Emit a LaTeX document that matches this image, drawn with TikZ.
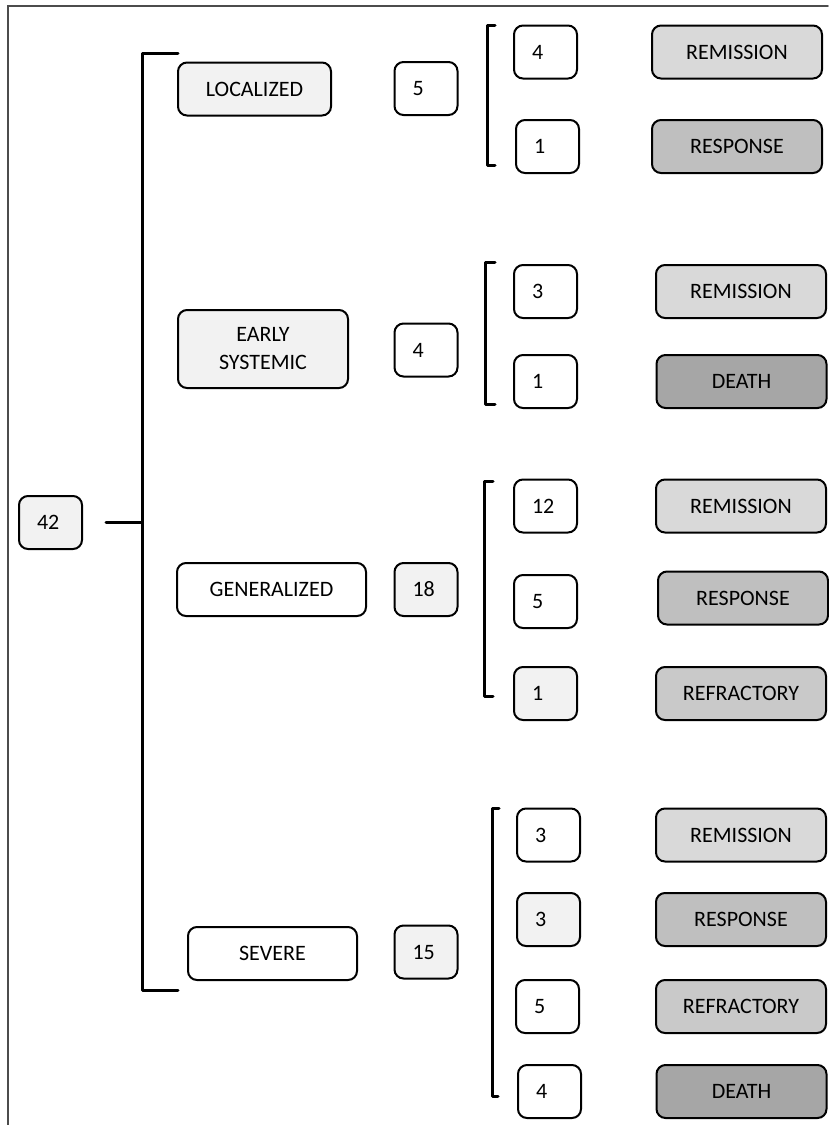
\documentclass[tikz,border=0pt]{standalone}
\usepackage{fontspec}
\setmainfont{Carlito}
\usetikzlibrary{calc}
\definecolor{boxlight}{HTML}{F2F2F2}
\definecolor{remcol}{HTML}{D9D9D9}
\definecolor{respcol}{HTML}{BFBFBF}
\definecolor{refrcol}{HTML}{C9C9C9}
\definecolor{deathcol}{HTML}{A6A6A6}
\tikzset{
  numbox/.style={draw, line width=2pt, rounded corners=9pt, minimum height=53pt,
    inner xsep=18pt, text width=27pt, align=left, fill=white},
  catbox/.style={draw, line width=2pt, rounded corners=9pt, minimum height=53pt,
    align=center, fill=white},
  outbox/.style={draw, line width=2pt, rounded corners=9pt, minimum height=53pt,
    minimum width=170pt, align=center},
  brace/.style={line width=3pt, line join=round}
}
\begin{document}
\begin{tikzpicture}[x=1pt, y=-1pt, font=\fontsize{22}{27}\selectfont, line cap=round]
        \useasboundingbox (0,0) rectangle (828,1125);
        % frame
        \draw[line width=1.5pt, black!70] (8,1125) -- (8,6) -- (828,6);
        % root
        \node[numbox, fill=boxlight] (N42) at (50.5,522.5) {42};
        % stages
        \node[catbox, fill=boxlight, minimum width=153pt] (LOC) at (254.5,89) {LOCALIZED};
        \node[catbox, fill=boxlight, minimum width=170pt, minimum height=78pt] (EAR) at (263,349) {EARLY\\[1pt]SYSTEMIC};
        \node[catbox, minimum width=189pt] (GEN) at (271.5,589.5) {GENERALIZED};
        \node[catbox, minimum width=169pt] (SEV) at (272.5,953.5) {SEVERE};
        % counts per stage
        \node[numbox] (C5) at (426,88.5) {5};
        \node[numbox] (C4) at (426,350) {4};
        \node[numbox, fill=boxlight] (C18) at (426,589.5) {18};
        \node[numbox, fill=boxlight] (C15) at (426,952) {15};
        % counts per outcome
        \node[numbox] (A1) at (545.5,52) {4};
        \node[numbox] (A2) at (547.5,146.5) {1};
        \node[numbox] (B1) at (545.5,291.5) {3};
        \node[numbox] (B2) at (545.5,381.5) {1};
        \node[numbox] (G1) at (545.5,506) {12};
        \node[numbox] (G2) at (545.5,601.5) {5};
        \node[numbox, fill=boxlight] (G3) at (545.5,693.5) {1};
        \node[numbox] (S1) at (548.5,835) {3};
        \node[numbox, fill=boxlight] (S2) at (548.5,919.5) {3};
        \node[numbox] (S3) at (547.5,1006.5) {5};
        \node[numbox] (S4) at (549.5,1091.5) {4};
        % outcomes
        \node[outbox, fill=remcol] (OA1) at (737,52) {REMISSION};
        \node[outbox, fill=respcol] (OA2) at (737,146.5) {RESPONSE};
        \node[outbox, fill=remcol] (OB1) at (741,291.5) {REMISSION};
        \node[outbox, fill=deathcol] (OB2) at (741.5,381.5) {DEATH};
        \node[outbox, fill=remcol] (OG1) at (741,506) {REMISSION};
        \node[outbox, fill=respcol] (OG2) at (743,598) {RESPONSE};
        \node[outbox, fill=refrcol] (OG3) at (741,693.5) {REFRACTORY};
        \node[outbox, fill=remcol] (OS1) at (741,835) {REMISSION};
        \node[outbox, fill=respcol] (OS2) at (741,919.5) {RESPONSE};
        \node[outbox, fill=refrcol] (OS3) at (741,1006.5) {REFRACTORY};
        \node[outbox, fill=deathcol] (OS4) at (741.5,1091.5) {DEATH};
        % brackets
        \coordinate (R) at ($(N42.east)+(23,0)$);
        \draw[brace] (R) -- (R -| 142,0);
        \draw[brace] (178,53) -- (142,53) -- (142,990) -- (178,990);
        \draw[brace] (495,25) -- (487,25) -- (487,165) -- (495,165);
        \draw[brace] (495,262) -- (485,262) -- (485,404) -- (495,404);
        \draw[brace] (493,481) -- (484,481) -- (484,696) -- (493,696);
        \draw[brace] (499,808) -- (492,808) -- (492,1096) -- (498,1096);
\end{tikzpicture}
\end{document}
